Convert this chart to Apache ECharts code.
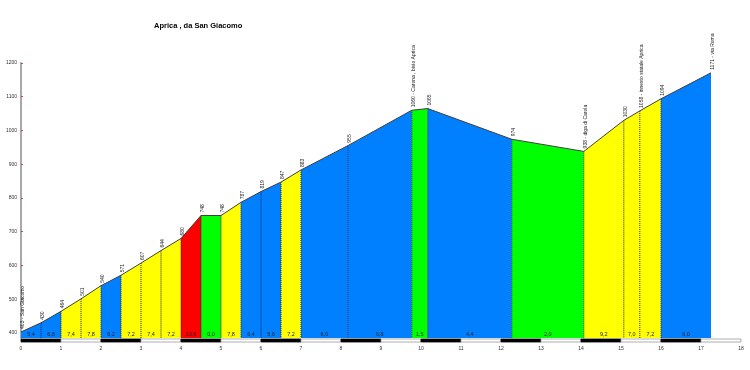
<!DOCTYPE html>
<html>
<head>
<meta charset="utf-8">
<script src="https://cdn.jsdelivr.net/npm/echarts@6/dist/echarts.min.js"></script>
<style>html,body{margin:0;padding:0;background:#fff;}#c{width:750px;height:370px;}</style>
</head>
<body>
<div id="c"></div>
<script>
const titleText = 'Aprica , da San Giacomo';
const kms = [0, 0.5, 1, 1.5, 2, 2.5, 3, 3.5, 4, 4.5, 5, 5.5, 6, 6.5, 7, 8.17, 9.77, 10.17, 12.27, 14.07, 15.07, 15.47, 16.0, 17.25];
const elevs = [403, 430, 464, 501, 540, 571, 607, 644, 680, 748, 748, 787, 819, 847, 883, 955, 1060, 1065, 974, 938, 1030, 1058, 1094, 1171];
const pointLabels = ['403 - San Giacomo', '430', '464', '501', '540', '571', '607', '644', '680', '748', '748', '787', '819', '847', '883', '955',
  '1060 - Carona , bivio Aprica', '1065', '974', '938 - diga di Carola', '1030', '1058 - innesto statale Aprica', '1094', '1171 - via Roma'];
const grades = [5.4, 6.8, 7.4, 7.8, 6.2, 7.2, 7.4, 7.2, 13.6, 0.0, 7.8, 6.4, 5.6, 7.2, 6.0, 6.8, 1.5, 4.4, 2.0, 9.2, 7.0, 7.2, 6.0];
const xTicks = [0,1,2,3,4,5,6,7,8,9,10,11,12,13,14,15,16,17,18];
const yTicks = [400, 500, 600, 700, 800, 900, 1000, 1100, 1200];

const Y_MIN = 385, Y_MAX = 1200;
const FONT = '"Liberation Sans", Arial, sans-serif';
function gradeColor(g) {
  if (g < 3) return '#00ff00';
  if (g < 7) return '#0080ff';
  if (g < 10) return '#ffff00';
  return '#ff0000';
}
const segData = [];
for (let i = 0; i < grades.length; i++) {
  segData.push([kms[i], kms[i + 1], elevs[i], elevs[i + 1], grades[i], i]);
}
const pointData = kms.map((k, i) => [k, elevs[i], i]);
const barData = [];
for (let i = 0; i < xTicks.length - 1; i++) barData.push([xTicks[i], xTicks[i + 1], i % 2]);

const chart = echarts.init(document.getElementById('c'), null, {renderer: 'canvas'});
chart.setOption({
  animation: false,
  backgroundColor: '#ffffff',
  title: {
    text: titleText, left: 149, top: 17,
    textStyle: {fontFamily: FONT, fontSize: 7.5, fontWeight: 'bold', color: '#000'}
  },
  grid: {left: 21, right: 9, top: 63, bottom: 32},
  xAxis: {
    type: 'value', min: 0, max: 18, interval: 1,
    axisLine: {show: false}, axisTick: {show: false}, splitLine: {show: false},
    axisLabel: {fontFamily: FONT, fontSize: 5, color: '#333', margin: 8}
  },
  yAxis: {
    type: 'value', min: Y_MIN, max: Y_MAX,
    axisLine: {show: true, lineStyle: {color: '#a8a8a8', width: 2}},
    axisTick: {show: true, length: 2, inside: true, customValues: yTicks, lineStyle: {color: '#e04040', width: 1}},
    axisLabel: {fontFamily: FONT, fontSize: 5, color: '#333', margin: 4, customValues: yTicks,
      formatter: function (v) { return String(v); }},
    splitLine: {show: false}
  },
  series: [
    {
      type: 'custom', data: segData, z: 2,
      renderItem: function (params, api) {
        const x0 = api.value(0), x1 = api.value(1), y0 = api.value(2), y1 = api.value(3), g = api.value(4), idx = api.value(5);
        const b0 = api.coord([x0, Y_MIN]), t0 = api.coord([x0, y0]);
        const b1 = api.coord([x1, Y_MIN]), t1 = api.coord([x1, y1]);
        const children = [{
          type: 'polygon',
          shape: {points: [b0, t0, t1, b1]},
          style: {fill: gradeColor(g)}
        }];
        if (idx > 0) {
          children.push({
            type: 'line',
            shape: {x1: t0[0], y1: t0[1], x2: b0[0], y2: b0[1]},
            style: {stroke: '#1a1a60', lineWidth: 1, lineDash: [1, 1]}
          });
        }
        children.push({
          type: 'text',
          style: {
            x: (b0[0] + b1[0]) / 2, y: b0[1] - 1,
            text: g.toFixed(1).replace('.', ','),
            fontFamily: FONT, fontSize: 5.5, fill: '#222',
            align: 'center', verticalAlign: 'bottom'
          }
        });
        return {type: 'group', children: children};
      }
    },
    {
      type: 'line', data: kms.map((k, i) => [k, elevs[i]]), z: 3,
      symbol: 'none', lineStyle: {color: '#404040', width: 1}
    },
    {
      type: 'custom', data: pointData, z: 4,
      renderItem: function (params, api) {
        const p = api.coord([api.value(0), api.value(1)]);
        return {
          type: 'text',
          x: p[0] - 1, y: p[1] - 3, rotation: Math.PI / 2,
          style: {
            x: 0, y: 0,
            text: pointLabels[api.value(2)],
            fontFamily: FONT, fontSize: 5, fill: '#222',
            align: 'left', verticalAlign: 'top'
          }
        };
      }
    },
    {
      type: 'custom', data: barData, z: 5,
      renderItem: function (params, api) {
        const a = api.coord([api.value(0), Y_MIN]);
        const b = api.coord([api.value(1), Y_MIN]);
        const dark = api.value(2) === 0;
        return {
          type: 'rect',
          shape: {x: a[0], y: a[1] + 1, width: b[0] - a[0], height: 3},
          style: {fill: dark ? '#000' : '#fff', stroke: dark ? '#000' : '#999', lineWidth: 0.8}
        };
      }
    }
  ]
});
</script>
</body>
</html>
